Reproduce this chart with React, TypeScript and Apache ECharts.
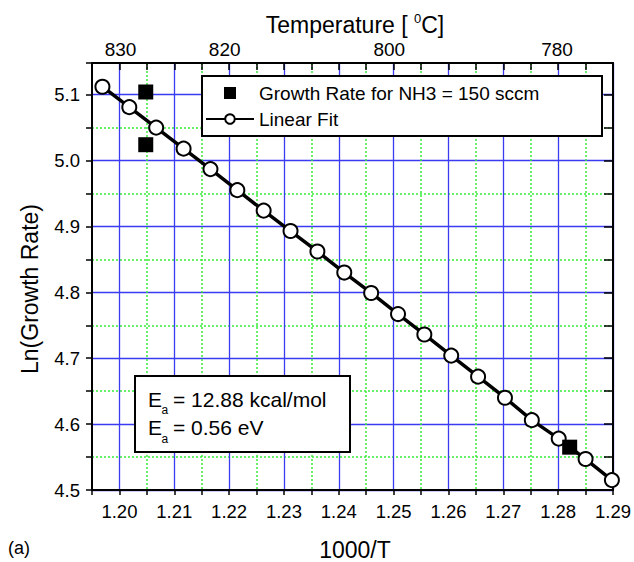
import React, { useEffect, useRef } from 'react';
import * as echarts from 'echarts';

// Axis ranges
const XMIN = 1.195;
const XMAX = 1.29;
const YMIN = 4.5;
const YMAX = 5.148;

// Linear fit of ln(growth rate) against 1000/T
const fitX = [1.1969, 1.2018, 1.2067, 1.2117, 1.2166, 1.2215, 1.2263, 1.2312, 1.2361, 1.241,
  1.2459, 1.2508, 1.2556, 1.2605, 1.2654, 1.2703, 1.2752, 1.2801, 1.285, 1.2898];
const fitY = [5.112, 5.081, 5.05, 5.018, 4.987, 4.955, 4.924, 4.893, 4.862, 4.83,
  4.799, 4.767, 4.736, 4.704, 4.672, 4.64, 4.606, 4.578, 4.547, 4.515];

// Measured growth rate for NH3 = 150 sccm
const growthX = [1.2048, 1.2048, 1.2821];
const growthY = [5.104, 5.024, 4.565];

// Temperature scale on the top axis
const topTickPositions = [1.2002, 1.2192, 1.2492, 1.2798];
const topTickLabels = ['830', '820', '800', '780'];

const GROWTH_NAME = 'Growth Rate for NH3 = 150 sccm';
const FIT_NAME = 'Linear Fit';

const FONT = "'Liberation Sans', Arial, Helvetica, sans-serif";
const BLUE = '#3b3bf2';
const GREEN = '#38ec38';
const CLEAR = 'rgba(0,0,0,0)';

const isMajorX = (v: number) => Math.abs(Math.round(v * 100) - v * 100) < 1e-6;
const isMajorY = (v: number) => Math.abs(Math.round(v * 10) - v * 10) < 1e-6;

function buildOption(): echarts.EChartsOption {
  const frameLine = { show: true, onZero: false, lineStyle: { color: '#000', width: 2 } };
  return {
    animation: false,
    backgroundColor: '#fff',
    grid: { left: 92, right: 17, top: 63, bottom: 72, containLabel: false },
    xAxis: [
      {
        type: 'value', position: 'bottom', min: XMIN, max: XMAX, interval: 0.005,
        axisLine: frameLine,
        axisTick: { show: true, inside: false, length: 5, lineStyle: { color: '#000', width: 1.5 } },
        axisLabel: {
          margin: 12, fontSize: 18.5, color: '#000', fontFamily: FONT,
          formatter: (v: number) => (isMajorX(v) ? v.toFixed(2) : ''),
        },
        splitLine: { show: true, lineStyle: { color: [CLEAR, BLUE], width: 1.3 } },
      },
      {
        type: 'value', position: 'top', min: XMIN, max: XMAX, interval: 0.005,
        axisLine: frameLine,
        axisTick: { show: true, inside: true, length: 7, lineStyle: { color: '#000', width: 1.5 } },
        axisLabel: {
          margin: 4, fontSize: 19, color: '#000', fontFamily: FONT,
          customValues: topTickPositions,
          formatter: (v: number) => {
            const i = topTickPositions.findIndex((p) => Math.abs(p - v) < 1e-6);
            return i >= 0 ? topTickLabels[i] : '';
          },
        },
        splitLine: { show: false },
      },
      {
        // dotted minor grid
        type: 'value', min: XMIN, max: XMAX, interval: 0.005,
        axisLine: { show: false }, axisTick: { show: false }, axisLabel: { show: false },
        splitLine: { show: true, lineStyle: { color: [GREEN, CLEAR], width: 1.5, type: [2, 2] } },
      },
    ],
    yAxis: [
      {
        type: 'value', position: 'left', min: YMIN, max: YMAX, interval: 0.05,
        axisLine: frameLine,
        axisTick: { show: true, inside: false, length: 6, lineStyle: { color: '#000', width: 1.5 } },
        axisLabel: {
          margin: 12, fontSize: 18.5, color: '#000', fontFamily: FONT,
          formatter: (v: number) => (isMajorY(v) ? v.toFixed(1) : ''),
        },
        splitLine: { show: true, lineStyle: { color: [BLUE, CLEAR], width: 1.3 } },
      },
      {
        type: 'value', position: 'right', min: YMIN, max: YMAX, interval: 0.05,
        axisLine: frameLine,
        axisTick: { show: true, inside: true, length: 9, lineStyle: { color: '#000', width: 1.5 } },
        axisLabel: { show: false },
        splitLine: { show: false },
      },
      {
        // dotted minor grid
        type: 'value', min: YMIN, max: YMAX, interval: 0.05,
        axisLine: { show: false }, axisTick: { show: false }, axisLabel: { show: false },
        splitLine: { show: true, lineStyle: { color: [CLEAR, GREEN], width: 1.5, type: [2, 2] } },
      },
    ],
    legend: {
      z: 20,
      left: 205,
      top: 83,
      orient: 'vertical',
      padding: 0,
      itemGap: 6,
      itemWidth: 48,
      itemHeight: 12,
      textStyle: { fontSize: 19, color: '#000', fontFamily: FONT, lineHeight: 20 },
      data: [
        { name: GROWTH_NAME, icon: 'path://M0 0H10V10H0Z' },
        { name: FIT_NAME },
      ],
    },
    series: [
      {
        name: FIT_NAME,
        type: 'line',
        xAxisIndex: 0,
        yAxisIndex: 0,
        data: fitX.map((x, i) => [x, fitY[i]]),
        symbol: 'circle',
        symbolSize: 14,
        showAllSymbol: true,
        itemStyle: { color: '#fff', borderColor: '#000', borderWidth: 2, opacity: 1 },
        lineStyle: { color: '#000', width: 3.5 },
        z: 3,
      },
      {
        name: GROWTH_NAME,
        type: 'scatter',
        xAxisIndex: 0,
        yAxisIndex: 0,
        data: growthX.map((x, i) => [x, growthY[i]]),
        symbol: 'rect',
        symbolSize: 15,
        itemStyle: { color: '#000', opacity: 1 },
        z: 4,
      },
    ],
    graphic: [
      // legend frame
      {
        type: 'rect', z: 15,
        shape: { x: 202, y: 76, width: 400, height: 60 },
        style: { fill: '#fff', stroke: '#000', lineWidth: 2 },
      },
      // activation energy box
      {
        type: 'rect', z: 15,
        shape: { x: 135, y: 376, width: 215, height: 76 },
        style: { fill: '#fff', stroke: '#000', lineWidth: 2 },
      },
      { type: 'text', z: 16, x: 148, y: 399, style: { text: 'E', font: `21px ${FONT}`, fill: '#000', align: 'left', verticalAlign: 'middle' } as any },
      { type: 'text', z: 16, x: 161.5, y: 410, style: { text: 'a', font: `12px ${FONT}`, fill: '#000', align: 'left', verticalAlign: 'middle' } as any },
      { type: 'text', z: 16, x: 173, y: 399, style: { text: '= 12.88 kcal/mol', font: `21px ${FONT}`, fill: '#000', align: 'left', verticalAlign: 'middle' } as any },
      { type: 'text', z: 16, x: 148, y: 427.5, style: { text: 'E', font: `21px ${FONT}`, fill: '#000', align: 'left', verticalAlign: 'middle' } as any },
      { type: 'text', z: 16, x: 161.5, y: 438.5, style: { text: 'a', font: `12px ${FONT}`, fill: '#000', align: 'left', verticalAlign: 'middle' } as any },
      { type: 'text', z: 16, x: 173, y: 427.5, style: { text: '= 0.56 eV', font: `21px ${FONT}`, fill: '#000', align: 'left', verticalAlign: 'middle' } as any },
      // axis titles
      {
        type: 'text', z: 16, x: 355, y: 25,
        style: {
          text: '{t|Temperature [ }{s|0}{t|C]}',
          align: 'center', verticalAlign: 'middle', fill: '#000',
          rich: {
            t: { fontSize: 23, fontFamily: FONT, lineHeight: 26, fill: '#000' },
            s: { fontSize: 13, fontFamily: FONT, lineHeight: 13, verticalAlign: 'top', fill: '#000' },
          },
        } as any,
      },
      { type: 'text', z: 16, x: 355, y: 550, style: { text: '1000/T', font: `23px ${FONT}`, fill: '#000', align: 'center', verticalAlign: 'middle' } as any },
      { type: 'text', z: 16, x: 30, y: 289, rotation: Math.PI / 2, style: { text: 'Ln(Growth Rate)', font: `23px ${FONT}`, fill: '#000', align: 'center', verticalAlign: 'middle' } as any },
      { type: 'text', z: 16, x: 8, y: 548, style: { text: '(a)', font: `18px ${FONT}`, fill: '#000', align: 'left', verticalAlign: 'middle' } as any },
    ],
  } as any;
}

export default function App() {
  const ref = useRef<HTMLDivElement>(null);
  useEffect(() => {
    if (!ref.current) return;
    const chart = echarts.init(ref.current, null, { renderer: 'svg' });
    chart.setOption(buildOption());
    return () => chart.dispose();
  }, []);
  return (
    <div
      ref={ref}
      style={{ position: 'absolute', left: 0, top: 0, width: 634, height: 562, background: '#fff' }}
    />
  );
}
